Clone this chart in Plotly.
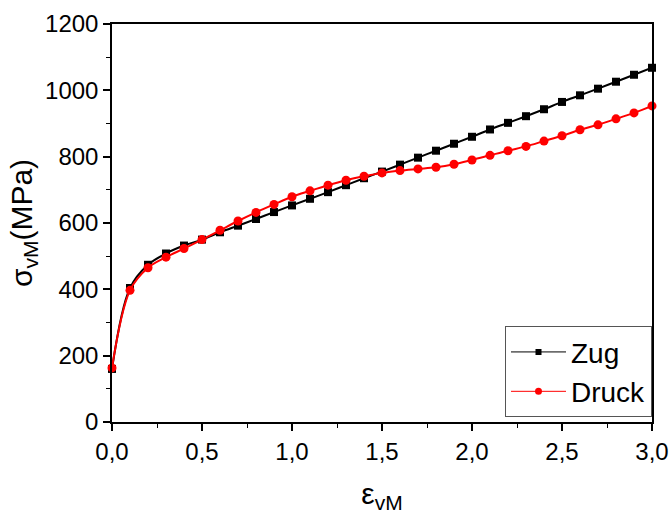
import plotly.graph_objects as go

# von Mises strain (0.0 ... 3.0 in steps of 0.1)
strain = [round(i * 0.1, 1) for i in range(31)]

# von Mises stress in MPa, tension
zug = [160, 404, 474, 508, 532, 550, 572, 592, 612, 633, 653,
       673, 693, 714, 735, 755, 776, 797, 818, 839, 860,
       882, 902, 922, 943, 965, 985, 1005, 1026, 1047, 1068]

# von Mises stress in MPa, compression
druck = [163, 397, 465, 497, 523, 550, 578, 606, 632, 656, 679,
         697, 714, 729, 741, 751, 758, 763, 768, 777, 790,
         804, 818, 831, 847, 863, 881, 896, 914, 932, 953]

x_ticks = [0.0, 0.5, 1.0, 1.5, 2.0, 2.5, 3.0]
y_ticks = [0, 200, 400, 600, 800, 1000, 1200]

fig = go.Figure()

fig.add_trace(go.Scatter(
    x=strain, y=zug, mode="lines+markers", name="Zug", showlegend=False,
    line=dict(color="black", width=2, shape="spline"),
    marker=dict(symbol="square", size=8, color="black"),
    cliponaxis=False,
))
fig.add_trace(go.Scatter(
    x=strain, y=druck, mode="lines+markers", name="Druck", showlegend=False,
    line=dict(color="#ff0000", width=2, shape="spline"),
    marker=dict(symbol="circle", size=9, color="#ff0000"),
    cliponaxis=False,
))

# legend entries drawn with thin lines and small markers
fig.add_trace(go.Scatter(
    x=[None], y=[None], mode="lines+markers", name="Zug",
    line=dict(color="black", width=1),
    marker=dict(symbol="square", size=6, color="black"),
))
fig.add_trace(go.Scatter(
    x=[None], y=[None], mode="lines+markers", name="Druck",
    line=dict(color="#ff0000", width=1),
    marker=dict(symbol="circle", size=7, color="#ff0000"),
))

font_family = "Liberation Sans, Arial, sans-serif"

fig.update_layout(
    width=670, height=514,
    margin=dict(l=112, r=18, t=24, b=92, autoexpand=False),
    paper_bgcolor="white", plot_bgcolor="white",
    separators=",.",
    font=dict(family=font_family, color="black", size=24),
    showlegend=True,
    legend=dict(
        x=1.0, y=0.012, xanchor="right", yanchor="bottom",
        bgcolor="white", bordercolor="#555555", borderwidth=1,
        font=dict(size=28, family=font_family),
        itemwidth=55, tracegroupgap=0,
    ),
)

fig.update_xaxes(
    range=[0, 3.0], tickvals=x_ticks, tickformat=".1f", automargin=False,
    showline=True, linecolor="black", linewidth=1.5, mirror=True,
    ticks="outside", ticklen=7, tickwidth=1.5, tickcolor="black",
    minor=dict(dtick=0.25, ticks="outside", ticklen=4, tickwidth=1, tickcolor="black"),
    showgrid=False, zeroline=False,
    tickfont=dict(size=24),
    title=dict(text="ε<sub>vM</sub>", font=dict(size=30), standoff=28),
)
fig.update_yaxes(
    range=[0, 1200], tickvals=y_ticks, automargin=False,
    showline=True, linecolor="black", linewidth=1.5, mirror=True,
    ticks="outside", ticklen=7, tickwidth=1.5, tickcolor="black",
    minor=dict(dtick=100, ticks="outside", ticklen=4, tickwidth=1, tickcolor="black"),
    showgrid=False, zeroline=False,
    tickfont=dict(size=24),
    title=dict(text="σ<sub>vM</sub>(MPa)", font=dict(size=30), standoff=4),
)

fig.write_html("out.html")
